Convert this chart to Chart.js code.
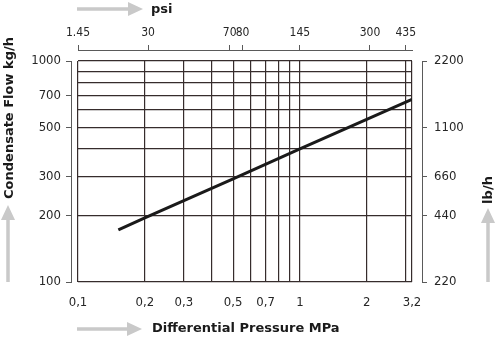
<!DOCTYPE html>
<html>
<head>
<meta charset="utf-8">
<script src="https://cdn.jsdelivr.net/npm/chart.js@4"></script>
<style>
  html, body { margin: 0; padding: 0; background: #fff; }
</style>
</head>
<body>
<canvas id="chart" width="500" height="340"></canvas>
<script>
// differential pressure (MPa) vs condensate flow (kg/h)
const pressureMPa = [0.152, 0.2, 0.5, 1, 2, 3.2];
const flowKgH = [172, 195, 293, 400, 544, 670];

// grid lines and labels
const xGrid = [0.1, 0.2, 0.3, 0.4, 0.5, 0.6, 0.7, 0.8, 0.9, 1, 2, 3, 3.2];
const xLabels = { 0.1: "0,1", 0.2: "0,2", 0.3: "0,3", 0.5: "0,5", 0.7: "0,7", 1: "1", 2: "2", 3.2: "3,2" };
const yGrid = [100, 200, 300, 400, 500, 600, 700, 800, 900, 1000];
const yTicks = [100, 200, 300, 500, 700, 1000];
const psiTicks = [14.5, 30, 70, 80, 145, 300, 435];
const psiLabels = ["1.45", "30", "70", "80", "145", "300", "435"];
const lbTicks = [220, 440, 660, 1100, 2200];

const gridColor = "#362c2c";
const axisColor = "#5a5a5a";
const textColor = "#262626";
const arrowColor = "#c9c9c9";
const fontFamily = "'DejaVu Sans Condensed', 'DejaVu Sans', sans-serif";
const tickFont = { family: fontFamily, size: 13 };

function setTicks(values) {
  return (scale) => { scale.ticks = values.map((v) => ({ value: v })); };
}

function spacer(pos, size) {
  return {
    type: "linear", position: pos, min: 0, max: 1, weight: 0,
    grid: { display: false }, border: { display: false }, ticks: { display: false },
    afterFit: (s) => { if (s.isHorizontal()) s.height = size; else s.width = size; },
  };
}

// titles and grey arrows
const decor = {
  id: "decor",
  afterDraw(chart) {
    const ctx = chart.ctx;
    ctx.save();
    const arrow = (x1, y1, x2, y2) => {
      const a = Math.atan2(y2 - y1, x2 - x1);
      const head = 15;
      ctx.strokeStyle = arrowColor;
      ctx.fillStyle = arrowColor;
      ctx.lineWidth = 3.5;
      ctx.beginPath();
      ctx.moveTo(x1, y1);
      ctx.lineTo(x2 - head * Math.cos(a), y2 - head * Math.sin(a));
      ctx.stroke();
      ctx.beginPath();
      ctx.moveTo(x2, y2);
      ctx.lineTo(x2 - head * Math.cos(a) - 7 * Math.sin(a), y2 - head * Math.sin(a) + 7 * Math.cos(a));
      ctx.lineTo(x2 - head * Math.cos(a) + 7 * Math.sin(a), y2 - head * Math.sin(a) - 7 * Math.cos(a));
      ctx.closePath();
      ctx.fill();
    };
    arrow(77, 9, 143, 9);
    arrow(77, 329, 142, 329);
    arrow(8, 282, 8, 205);
    arrow(488, 282, 488, 208);

    ctx.fillStyle = "#1a1a1a";
    ctx.font = "bold 13px 'DejaVu Sans', sans-serif";
    ctx.textBaseline = "middle";
    ctx.textAlign = "left";
    ctx.fillText("psi", 151, 10);
    ctx.fillText("Differential Pressure MPa", 152, 329);
    ctx.textAlign = "center";
    ctx.translate(10, 118);
    ctx.rotate(-Math.PI / 2);
    ctx.fillText("Condensate Flow kg/h", 0, 0);
    ctx.setTransform(1, 0, 0, 1, 0, 0);
    ctx.translate(489, 190);
    ctx.rotate(-Math.PI / 2);
    ctx.fillText("lb/h", 0, 0);
    ctx.restore();
  },
};

new Chart(document.getElementById("chart"), {
  type: "line",
  data: {
    datasets: [{
      data: pressureMPa.map((p, i) => ({ x: p, y: flowKgH[i] })),
      borderColor: "#1a1a1a",
      borderWidth: 3,
      pointRadius: 0,
      tension: 0,
    }],
  },
  options: {
    responsive: false,
    animation: false,
    layout: { padding: { left: 20, right: 28, top: 20, bottom: 28 } },
    plugins: { legend: { display: false }, tooltip: { enabled: false } },
    scales: {
      x: {
        type: "logarithmic", position: "bottom", min: 0.1, max: 3.2,
        afterBuildTicks: setTicks(xGrid),
        afterFit: (s) => { s.height = 30; },
        grid: { color: gridColor, lineWidth: 1.2, drawTicks: false },
        border: { display: false },
        ticks: {
          autoSkip: false, maxRotation: 0, padding: 13, color: textColor, font: tickFont,
          callback: (v) => xLabels[v] || "",
        },
      },
      xs: spacer("top", 11),
      xPsi: {
        type: "logarithmic", position: "top", weight: 1, min: 14.5, max: 3.2 * 145,
        afterBuildTicks: setTicks(psiTicks),
        afterFit: (s) => { s.height = 30; },
        grid: { drawOnChartArea: false, color: axisColor, tickLength: 5 },
        border: { display: true, color: axisColor },
        ticks: {
          autoSkip: false, maxRotation: 0, padding: 5, color: textColor,
          font: { family: fontFamily, size: 12 },
          callback: (v, i) => psiLabels[i],
        },
      },
      y: {
        type: "logarithmic", position: "left", weight: 0, min: 100, max: 1000,
        afterBuildTicks: setTicks(yGrid),
        afterFit: (s) => { s.width = 7; },
        grid: { color: gridColor, lineWidth: 1.2, drawTicks: false },
        border: { display: false },
        ticks: { display: false },
      },
      yL: {
        type: "logarithmic", position: "left", weight: 1, min: 100, max: 1000,
        afterBuildTicks: setTicks(yTicks),
        afterFit: (s) => { s.width = 51; },
        grid: { drawOnChartArea: false, color: axisColor, tickLength: 5 },
        border: { display: true, color: axisColor },
        ticks: { padding: 5, color: textColor, font: tickFont, callback: (v) => String(v) },
      },
      ys: spacer("right", 10),
      yR: {
        type: "logarithmic", position: "right", weight: 1, min: 220, max: 2200,
        afterBuildTicks: setTicks(lbTicks),
        afterFit: (s) => { s.width = 50; },
        grid: { drawOnChartArea: false, color: axisColor, tickLength: 5 },
        border: { display: true, color: axisColor },
        ticks: { padding: 7, color: textColor, font: tickFont, callback: (v) => String(v) },
      },
    },
  },
  plugins: [decor],
});
</script>
</body>
</html>
